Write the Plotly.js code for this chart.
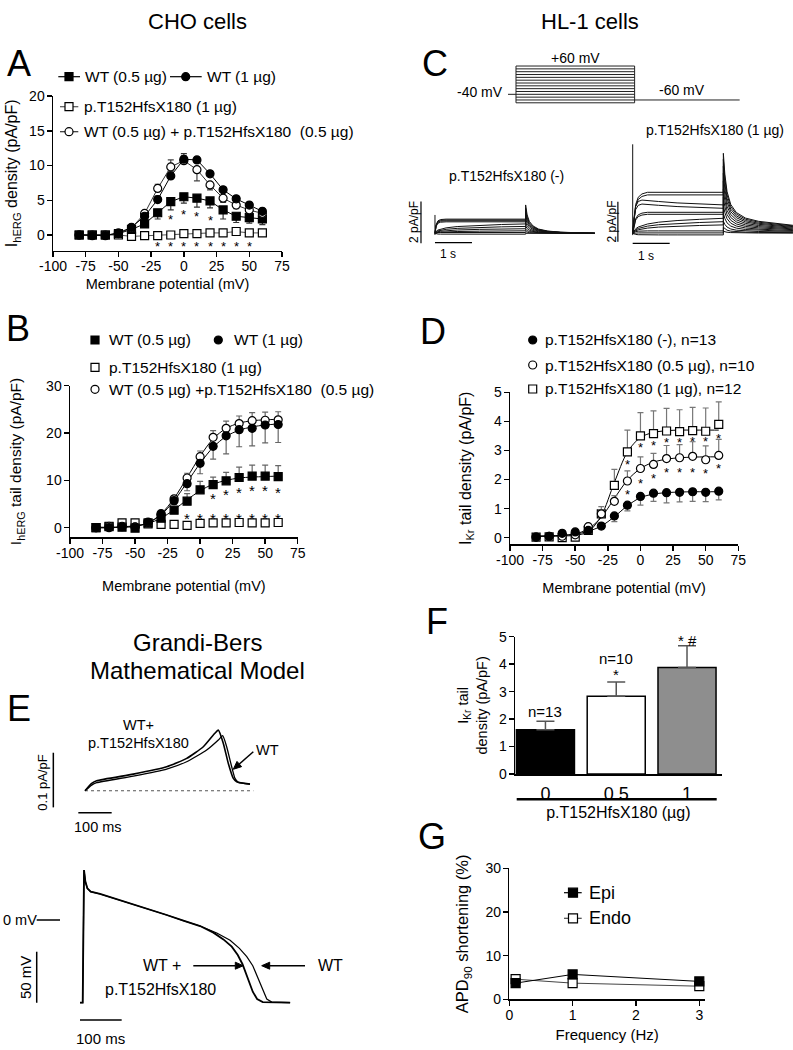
<!DOCTYPE html>
<html><head><meta charset="utf-8">
<script src="https://cdn.plot.ly/plotly-3.0.1.min.js"></script>
<style>html,body{margin:0;padding:0;background:#fff;}#plot{width:793px;height:1050px;}</style>
</head><body><div id="plot"></div>
<script>
const FONT = 'Liberation Sans, Arial, Helvetica, sans-serif';
const W = 793, H = 1050;

// ---------------- data ----------------
const voltages = [-80,-70,-60,-50,-40,-30,-20,-10,0,10,20,30,40,50,60];
const vTickVals = [-100,-75,-50,-25,0,25,50,75];
const vTickText = ['-100','-75','-50','-25','0','25','50','75'];

// Panel A (I hERG density, pA/pF)
const aWT05 = [0,0,0,0.2,0.8,1.6,3.2,4.8,5.5,5.3,4.9,3.6,2.7,2.5,2.3];
const aWT05ErrDown = [0,0,0,0,0.2,0.5,0.9,1.2,0.9,1.3,1.0,1.3,0.9,0.8,0.8];
const aWT1 = [0,-0.1,-0.1,0.3,1.1,2.7,5.1,8.5,10.9,10.8,8.8,6.5,5.2,4.3,3.4];
const aWT1ErrUp = [0,0,0,0,0.2,0.3,0.5,0.7,0.8,0.4,0.4,0.4,0.3,0.3,0.3];
const aMix = [0,0,0,0.2,1.0,3.1,6.7,9.8,10.7,9.4,7.2,5.3,4.3,3.6,3.1];
const aMixErrUp = [0,0,0,0,0.2,0.4,0.6,1.0,0.7,0,0,0,0,0,0];
const aMixErrDown = [0,0,0,0,0,0,0,0,0,1.6,0.7,0.6,0.5,0.4,0.3];
const aMut = [0,0,0,0,-0.2,-0.1,-0.1,0,0.2,0.2,0.3,0.3,0.5,0.3,0.3];
const aMutErr = [0,0,0,0,0.1,0.1,0.1,0.1,0.1,0.1,0.1,0.1,0.2,0.1,0.1];
const aStarX = [-10,0,10,20,-20,-10,0,10,20,30,40,50];
const aStarY = [2.66,3.38,3.14,2.56,-1.2,-1.2,-1.2,-1.2,-1.2,-1.2,-1.2,-1.2];

// Panel B (I hERG tail density)
const bWT05 = [0,0.2,0.1,-0.1,1.0,2.0,3.7,5.6,8.0,9.1,9.9,10.6,10.9,10.9,10.8];
const bWT05ErrUp = [0,0,0,0,0.3,0.4,0.6,1.6,1.8,1.6,1.8,2.2,2.3,2.3,2.3];
const bWT05Fit = [0.1,0.1,0.2,0.4,0.9,2.0,3.8,5.9,7.8,9.2,10.0,10.5,10.7,10.8,10.9];
const bWT1 = [0,0,0.2,0.1,1.2,2.8,5.7,9.3,13.6,17.2,19.4,20.7,21.0,21.7,21.8];
const bWT1ErrDown = [0,0,0,0,0.3,0.5,0.8,1.5,2.2,2.7,3.8,3.6,3.7,3.8,3.8];
const bWT1Fit = [0,0,0.1,0.3,1.0,2.7,5.7,9.6,13.6,17.0,19.3,20.6,21.3,21.7,21.9];
const bMix = [0,0.3,0.3,0.2,1.1,3.0,6.1,10.5,15.0,19.1,21.0,22.0,22.6,22.7,22.8];
const bMixErrUp = [0,0,0,0,0.3,0.4,0.6,1.0,1.2,1.4,1.5,1.6,1.7,1.7,1.7];
const bMixFit = [0,0,0.1,0.3,1.0,2.9,6.2,10.6,15.1,18.8,21.0,22.1,22.6,22.8,22.9];
const bMut = [0,0.3,1.0,1.0,0.8,0.7,0.7,0.5,0.9,1.0,1.0,1.1,1.0,1.0,1.1];
const bStarX = [10,20,30,40,50,60,-10,0,10,20,30,40,50,60];
const bStarY = [7.06,7.7,8.3,8.6,8.6,8.3,2.7,2.7,2.7,2.7,2.7,2.7,2.7,2.7];

// Panel C (voltage protocol and IKr traces, HL-1)
const protSteps = [-70,-60,-50,-40,-30,-20,-10,0,10,20,30,40,50,60];
const protHoldV = -40, protTailV = -60;
const protHoldStart = -0.165, protStepEnd = 2.45, protTailEnd = 4.62;
const cLeftStepT = [0,0.03,0.08,0.15,0.3,0.6,1.2,1.8,2.45];
const cLeftShapeFast = [0,0.6,0.88,0.97,1,1,1,1,1];
const cLeftShapeSlow = [0,0.2,0.35,0.45,0.58,0.72,0.86,0.94,1];
const cLeftLevels = [0.68,0.64,0.6,0.55,0.45,0.33,0.22,0.12,0.04,-0.04];
const cLeftKin = ['f','f','f','f','s','s','s','s','f','f'];
const cLeftTailPeak = [1.36,1.2,1.05,0.9,0.72,0.52,0.35,0.2,0.08,0.0];
const cLeftTailT = [2.45,2.49,2.55,2.65,2.8,3.05,3.4,3.8,4.32];
const cLeftTailFrac = [1,0.65,0.42,0.26,0.15,0.08,0.04,0.02,0];
const cLeftArtifactI = [-0.08,0.88];
const cRightStepT = [0,0.03,0.08,0.15,0.25,0.4,0.7,1.2,1.8,2.45];
const cRightShapeFast = [0,0.35,0.7,0.88,0.96,1,1,1,1,1];
const cRightShapeInact = [0,0.5,0.95,1.12,1.17,1.16,1.12,1.07,1.03,1];
const cRightShapeSlow = [0,0.15,0.3,0.42,0.52,0.62,0.74,0.85,0.93,1];
const cRightLevels = [2.05,1.92,1.42,1.25,1.05,0.95,0.75,0.58,0.42,0.12,0.02,-0.08];
const cRightKin = ['f','f','i','i','f','f','s','s','s','f','f','f'];
const cRightTailPeak = [4.0,3.7,3.35,3.0,2.6,2.2,1.8,1.4,1.0,0.6,0.3,0.1];
const cRightTailT = [2.45,2.49,2.55,2.65,2.8,3.05,3.4,3.9,4.33];
const cRightTailFrac = [1,0.74,0.52,0.36,0.26,0.19,0.15,0.12,0.1];
const cRightArtifactI = [-0.09,4.45];

// Panel D (IKr tail density)
const dNone = [0.02,0.05,0.15,0.2,0.25,0.4,0.75,1.12,1.42,1.53,1.55,1.56,1.58,1.56,1.6];
const dNoneErrDown = [0.02,0.03,0.04,0.05,0.05,0.07,0.2,0.2,0.3,0.28,0.35,0.33,0.33,0.32,0.3];
const dNoneFit = [0.05,0.06,0.08,0.12,0.22,0.4,0.72,1.1,1.38,1.5,1.55,1.57,1.58,1.58,1.58];
const dHalf = [0.02,0.05,0.05,0.1,0.38,0.82,1.25,1.95,2.38,2.52,2.72,2.75,2.8,2.68,2.83];
const dHalfErrUp = [0.02,0.03,0.03,0.05,0.1,0.15,0.2,0.35,0.4,0.38,0.45,0.45,0.5,0.48,0.55];
const dHalfFit = [0.05,0.06,0.08,0.13,0.3,0.7,1.35,1.98,2.38,2.6,2.7,2.75,2.77,2.78,2.78];
const dOne = [0.02,0.03,0.0,0.02,0.25,0.82,1.8,2.95,3.5,3.58,3.67,3.65,3.68,3.66,3.9];
const dOneErrUp = [0.02,0.03,0.03,0.05,0.15,0.25,0.55,0.75,0.8,0.78,0.78,0.75,0.8,0.8,0.77];
const dOneFit = [0.05,0.05,0.06,0.08,0.2,0.75,1.9,2.95,3.45,3.62,3.68,3.7,3.7,3.7,3.7];
const dStarX = [-10,0,10,20,30,40,50,60,-10,0,10,20,30,40,50,60];
const dStarY = [2.62,3.2,3.29,3.4,3.37,3.42,3.41,3.51,1.61,1.99,2.15,2.34,2.37,2.37,2.33,2.48];

// Panel E (Grandi-Bers model)
const eMutT = [0,20,35,145,245,305,355,385,400,415,430,445,455,495];
const eMutI = [0,0.0134,0.0183,0.0305,0.044,0.0592,0.0806,0.102,0.111,0.0867,0.050,0.0226,0.0165,0.0122];
const eWtT = [0,20,35,145,245,305,365,400,413,425,440,450,460,495];
const eWtI = [0,0.0104,0.0147,0.0269,0.0397,0.0531,0.0745,0.0928,0.1007,0.0806,0.044,0.0226,0.0153,0.0122];
const eBaseT = [0,505], eBaseI = [0,0];
const apCommonT = [-6.4,0,3.2,6.4,11.2,19.2,41.6,81.6,121.6,161.6,201.6,241.6,281.6];
const apCommonV = [-81.0,-81.0,49.0,37.6,31.0,27.8,25.5,20.3,15.7,10.5,4.9,-0.7,-5.9];
const apMutT = [313.6,337.6,357.6,372,383.2,392,400,408,418.4,432,497.6];
const apMutV = [-12.4,-19.0,-26.1,-34.3,-43.1,-52.3,-62.1,-70.3,-77.5,-80.4,-81.0];
const apWtT = [321.6,353.6,376,393.6,408,417.6,425.6,433.6,441.6,453.6,497.6];
const apWtV = [-12.7,-19.9,-27.8,-35.9,-44.8,-53.9,-62.7,-70.9,-77.5,-80.4,-81.0];

// Panel F (bars)
const fDose = ['0','0.5','1'];
const fMean = [1.61,2.83,3.88];
const fErr = [0.31,0.52,0.79];
const fColors = ['#000000','#ffffff','#8e8e8e'];
const fNText = ['n=13','n=10','n=12'];
const fNY = [2.27,4.21,5.49];
const fSigText = ['*','* #'];
const fSigIndex = [1,2];
const fSigY = [3.62,4.87];

// Panel G (APD90 shortening)
const gFreq = [0.1,1,3];
const gEpi = [3.7,5.7,4.1];
const gEndo = [4.6,3.7,3.0];

// ---------------- helpers ----------------
const px = x => x / W, py = y => 1 - y / H;
const dx = (a, b) => [a / W, b / W];
const dy = (top, bottom) => [1 - bottom / H, 1 - top / H];
const Z = voltages.map(() => 0);
function sc(xa, ya, x, y, o) { return Object.assign({type:'scatter', x, y, xaxis:xa, yaxis:ya, cliponaxis:false, hoverinfo:'skip'}, o); }
function mk(sym, filled, size) { return {symbol:sym, size, color: filled ? '#000' : '#fff', line:{color:'#000', width:1.2}}; }
function eb(up, down, color) { return {type:'data', symmetric:false, array:up, arrayminus:down, color, thickness:1.2, width:3}; }
function txt(text, x, y, size, o) { return Object.assign({text, x:px(x), y:py(y), xref:'paper', yref:'paper', showarrow:false, xanchor:'center', yanchor:'middle', font:{family:FONT, size, color:'#000'}}, o || {}); }
function stars(xs, ys, xa, ya, size) { return xs.map((x, i) => ({text:'*', x, y:ys[i], xref:xa, yref:ya, showarrow:false, xanchor:'center', yanchor:'middle', yshift:-0.25 * size, font:{family:FONT, size, color:'#000'}})); }
function glyph(cx, cy, sym, filled, size) { const h = size / 2; return {type: sym === 'square' ? 'rect' : 'circle', xref:'paper', yref:'paper', x0:px(cx - h), x1:px(cx + h), y0:py(cy + h), y1:py(cy - h), fillcolor: filled ? '#000' : '#fff', line:{color:'#000', width:1.2}}; }
function seg(x0, x1, y, color, w) { return {type:'line', xref:'paper', yref:'paper', x0:px(x0), x1:px(x1), y0:py(y), y1:py(y), line:{color, width:w}}; }
function dline(xr, yr, x0, y0, x1, y1, w) { return {type:'line', xref:xr, yref:yr, x0, y0, x1, y1, line:{color:'#000', width:w || 1.5}}; }
function arrow(x0, y0, x1, y1) {
  const L = Math.hypot(x1 - x0, y1 - y0), ux = (x1 - x0) / L, uy = (y1 - y0) / L;
  const hl = 8, hw = 3.5, bx = x1 - hl * ux, by = y1 - hl * uy, nx = -uy, ny = ux;
  return [
    {type:'line', xref:'paper', yref:'paper', x0:px(x0), y0:py(y0), x1:px(bx), y1:py(by), line:{color:'#000', width:1.5}},
    {type:'path', xref:'paper', yref:'paper', fillcolor:'#000', line:{color:'#000', width:1},
     path:`M ${px(x1)} ${py(y1)} L ${px(bx + hw * nx)} ${py(by + hw * ny)} L ${px(bx - hw * nx)} ${py(by - hw * ny)} Z`}
  ];
}
function ttl(text, size, standoff) { return {text, standoff, font:{family:FONT, size, color:'#000'}}; }

const traces = [];
// ---- A ----
traces.push(sc('x','y',voltages,aMut,{mode:'lines+markers', line:{color:'#555',width:1}, marker:mk('square',false,8), error_y:eb(aMutErr,aMutErr,'#555')}));
traces.push(sc('x','y',voltages,aWT05,{mode:'lines+markers', line:{color:'#000',width:1}, marker:mk('square',true,8), error_y:eb(Z,aWT05ErrDown,'#333')}));
traces.push(sc('x','y',voltages,aMix,{mode:'lines+markers', line:{color:'#333',width:1}, marker:mk('circle',false,8), error_y:eb(aMixErrUp,aMixErrDown,'#444')}));
traces.push(sc('x','y',voltages,aWT1,{mode:'lines+markers', line:{color:'#000',width:1}, marker:mk('circle',true,8), error_y:eb(aWT1ErrUp,Z,'#333')}));
// ---- B ----
[bWT05Fit,bWT1Fit,bMixFit].forEach(f => traces.push(sc('x2','y2',voltages,f,{mode:'lines', line:{color:'#000',width:1,shape:'spline',smoothing:0.8}})));
traces.push(sc('x2','y2',voltages,bMut,{mode:'markers', marker:mk('square',false,8), error_y:eb(Z,Z,'#666')}));
traces.push(sc('x2','y2',voltages,bWT05,{mode:'markers', marker:mk('square',true,8), error_y:eb(bWT05ErrUp,Z,'#666')}));
traces.push(sc('x2','y2',voltages,bMix,{mode:'markers', marker:mk('circle',false,8), error_y:eb(bMixErrUp,Z,'#666')}));
traces.push(sc('x2','y2',voltages,bWT1,{mode:'markers', marker:mk('circle',true,8), error_y:eb(Z,bWT1ErrDown,'#666')}));
// ---- C protocol ----
{
  const xs = [], ys = [];
  protSteps.forEach(v => { xs.push(0, protStepEnd, null); ys.push(v, v, null); });
  const lo = protSteps[0], hi = protSteps[protSteps.length - 1];
  xs.push(0, 0, null, protStepEnd, protStepEnd, null); ys.push(lo, hi, null, lo, hi, null);
  xs.push(protHoldStart, 0, null, protStepEnd, protTailEnd); ys.push(protHoldV, protHoldV, null, protTailV, protTailV);
  traces.push(sc('x3','y3',xs,ys,{mode:'lines', line:{color:'#222',width:1}}));
}
// ---- C current traces ----
function currentTrace(xa, ya, stepT, shape, level, tailT, tailFrac, peak) {
  const x = stepT.concat(tailT);
  const y = shape.map(f => f * level).concat(tailFrac.map(f => f * peak));
  return sc(xa, ya, x, y, {mode:'lines', line:{color:'#111', width:1}});
}
cLeftLevels.forEach((lv, i) => traces.push(currentTrace('x4','y4',cLeftStepT, cLeftKin[i]==='f'?cLeftShapeFast:cLeftShapeSlow, lv, cLeftTailT, cLeftTailFrac, cLeftTailPeak[i])));
traces.push(sc('x4','y4',[0,0],cLeftArtifactI,{mode:'lines', line:{color:'#111',width:1}}));
const rShapes = {f:cRightShapeFast, i:cRightShapeInact, s:cRightShapeSlow};
cRightLevels.forEach((lv, i) => traces.push(currentTrace('x5','y5',cRightStepT, rShapes[cRightKin[i]], lv, cRightTailT, cRightTailFrac, cRightTailPeak[i])));
traces.push(sc('x5','y5',[0,0],cRightArtifactI,{mode:'lines', line:{color:'#111',width:1}}));
// ---- D ----
[dNoneFit,dHalfFit,dOneFit].forEach(f => traces.push(sc('x6','y6',voltages,f,{mode:'lines', line:{color:'#000',width:1,shape:'spline',smoothing:0.8}})));
traces.push(sc('x6','y6',voltages,dOne,{mode:'markers', marker:mk('square',false,8), error_y:eb(dOneErrUp,Z,'#777')}));
traces.push(sc('x6','y6',voltages,dHalf,{mode:'markers', marker:mk('circle',false,8), error_y:eb(dHalfErrUp,Z,'#777')}));
traces.push(sc('x6','y6',voltages,dNone,{mode:'markers', marker:mk('circle',true,8), error_y:eb(Z,dNoneErrDown,'#777')}));
// ---- E ----
traces.push(sc('x7','y7',eBaseT,eBaseI,{mode:'lines', line:{color:'#555',width:1.2,dash:'dot'}}));
traces.push(sc('x7','y7',eWtT,eWtI,{mode:'lines', line:{color:'#000',width:1.3,shape:'spline',smoothing:0.5}}));
traces.push(sc('x7','y7',eMutT,eMutI,{mode:'lines', line:{color:'#000',width:1.6,shape:'spline',smoothing:0.5}}));
traces.push(sc('x8','y8',apCommonT.concat(apWtT),apCommonV.concat(apWtV),{mode:'lines', line:{color:'#000',width:1.2}}));
traces.push(sc('x8','y8',apCommonT.concat(apMutT),apCommonV.concat(apMutV),{mode:'lines', line:{color:'#000',width:1.8}}));
// ---- F ----
traces.push({type:'bar', x:fDose, y:fMean, xaxis:'x9', yaxis:'y9', width:0.82, hoverinfo:'skip',
  marker:{color:fColors, line:{color:'#000', width:1.5}},
  error_y:{type:'data', symmetric:false, array:fErr, arrayminus:[0,0,0], color:'#555', thickness:1.5, width:9}});
// ---- G ----
traces.push(sc('x10','y10',gFreq,gEndo,{mode:'lines+markers', line:{color:'#444',width:1}, marker:mk('square',false,9)}));
traces.push(sc('x10','y10',gFreq,gEpi,{mode:'lines+markers', line:{color:'#000',width:1}, marker:mk('square',true,9)}));

// ---------------- layout ----------------
const axBase = {showline:true, linewidth:1.5, linecolor:'#000', ticks:'outside', ticklen:5, tickwidth:1.5, tickcolor:'#000',
  showgrid:false, zeroline:false, fixedrange:true, automargin:false, tickfont:{family:FONT, size:14, color:'#000'}};
const xAx = Object.assign({}, axBase, {ticklabelstandoff:-3});
const yAx = Object.assign({}, axBase, {ticklabelstandoff:-1});
const axHidden = {visible:false, showgrid:false, zeroline:false, fixedrange:true};

const annotations = [
  txt('CHO cells', 197, 21, 22), txt('HL-1 cells', 590, 21, 22),
  txt('A', 19, 63, 36), txt('B', 18, 328, 36), txt('C', 435, 63, 36), txt('D', 433, 331, 36),
  txt('E', 19, 708, 36), txt('F', 437, 621, 36), txt('G', 432, 836, 36),
  // A legend
  txt('WT (0.5 µg)', 83.3, 76.7, 15.5, {xanchor:'left'}), txt('WT (1 µg)', 205, 76.7, 15.5, {xanchor:'left'}),
  txt('p.T152HfsX180 (1 µg)', 81.7, 106.7, 15.5, {xanchor:'left'}),
  txt('WT (0.5 µg) + p.T152HfsX180  (0.5 µg)', 81.7, 131.7, 15.5, {xanchor:'left'}),
  // B legend
  txt('WT (0.5 µg)', 106.7, 340, 15.5, {xanchor:'left'}), txt('WT (1 µg)', 231.7, 340, 15.5, {xanchor:'left'}),
  txt('p.T152HfsX180 (1 µg)', 106.7, 367.3, 15.5, {xanchor:'left'}),
  txt('WT (0.5 µg) +p.T152HfsX180  (0.5 µg)', 106.7, 389.3, 15.5, {xanchor:'left'}),
  // C
  txt('+60 mV', 575, 58, 14), txt('-40 mV', 480, 91.7, 14), txt('-60 mV', 681.7, 90, 14),
  txt('p.T152HfsX180 (-)', 506.7, 175.7, 14), txt('p.T152HfsX180 (1 µg)', 715, 130, 14),
  txt('2 pA/pF', 413.3, 221.7, 12, {textangle:-90}), txt('1 s', 448.3, 254, 12),
  txt('2 pA/pF', 611.5, 222, 12, {textangle:-90}), txt('1 s', 645.5, 255.5, 12),
  // D legend
  txt('p.T152HfsX180 (-), n=13', 543.3, 340, 15.5, {xanchor:'left'}),
  txt('p.T152HfsX180 (0.5 µg), n=10', 543.3, 365, 15.5, {xanchor:'left'}),
  txt('p.T152HfsX180 (1 µg), n=12', 543.3, 389, 15.5, {xanchor:'left'}),
  // E
  txt('Grandi-Bers', 197, 642, 24), txt('Mathematical Model', 197, 670, 24),
  txt('WT+', 138.3, 725, 14.5), txt('p.T152HfsX180', 138.3, 742.7, 14.5), txt('WT', 267, 750, 14.5),
  txt('0.1 pA/pF', 41.7, 783, 13, {textangle:-90}), txt('100 ms', 98, 827, 14.5),
  txt('0 mV', 0.5, 920, 14.5, {xanchor:'left'}), txt('50 mV', 25, 978, 15, {textangle:-90}),
  txt('100 ms', 100, 1038.3, 15),
  txt('WT +', 161.7, 965.7, 16), txt('p.T152HfsX180', 160, 989.3, 16), txt('WT', 330, 965.7, 16),
  // G legend
  txt('Epi', 586.7, 892.7, 18, {xanchor:'left'}), txt('Endo', 586.7, 918.3, 18, {xanchor:'left'})
].concat(stars(aStarX, aStarY, 'x', 'y', 13))
 .concat(stars(bStarX, bStarY, 'x2', 'y2', 15))
 .concat(stars(dStarX, dStarY, 'x6', 'y6', 13))
 .concat(fNText.map((t, i) => ({text:t, x:i, y:fNY[i], xref:'x9', yref:'y9', showarrow:false, xanchor:'center', yanchor:'middle', font:{family:FONT, size:15, color:'#000'}})))
 .concat(fSigText.map((t, i) => ({text:t, x:fSigIndex[i], y:fSigY[i], xref:'x9', yref:'y9', showarrow:false, xanchor:'center', yanchor:'middle', font:{family:FONT, size:15, color:'#000'}})));

const shapes = [
  // A legend
  seg(58.3, 80, 76.7, '#000', 1.2), glyph(69, 76.7, 'square', true, 8),
  seg(170, 201.7, 76.7, '#000', 1.2), glyph(185.7, 76.7, 'circle', true, 8),
  seg(60, 78.3, 106.7, '#555', 1.2), glyph(69, 106.7, 'square', false, 8),
  seg(60, 78.3, 131.7, '#333', 1.2), glyph(69, 131.7, 'circle', false, 8),
  // B legend
  glyph(95, 340, 'square', true, 8), glyph(218.3, 340, 'circle', true, 8),
  glyph(95, 367.3, 'square', false, 8), glyph(95, 389.3, 'circle', false, 8),
  // D legend
  glyph(532.7, 340, 'circle', true, 8), glyph(532.7, 365, 'circle', false, 8), glyph(532.7, 389, 'square', false, 8),
  // G legend
  seg(564, 581.7, 892.7, '#000', 1.2), glyph(573, 892.7, 'square', true, 9),
  seg(564, 581.7, 918.3, '#444', 1.2), glyph(573, 918.3, 'square', false, 9),
  // C scale bars (data units: s and pA/pF)
  dline('x4','y4', -0.378, -0.48, -0.378, 1.52, 1.2), dline('x4','y4', 0, -0.45, 1, -0.45, 1.2),
  dline('x5','y5', -0.40, -0.42, -0.40, 1.58, 1.2), dline('x5','y5', 0, -0.5, 1, -0.5, 1.2),
  // E scale bars (ms, pA/pF, mV)
  dline('x7','y7', -95, -0.0304, -95, 0.0696, 1.5), dline('x7','y7', -20, -0.0403, 80, -0.0403, 1.5),
  dline('x8','y8', -110.3, 0, -54.4, 0, 1.5), dline('x8','y8', -110.3, -81.1, -110.3, -31.1, 1.5),
  dline('x8','y8', -6.5, -98, 93.5, -98, 1.5),
  // F group line
  seg(516.7, 716.7, 799.3, '#000', 2.5)
].concat(arrow(253.3, 751.7, 233.3, 769.3))
 .concat(arrow(193.3, 965.7, 243.3, 965.7))
 .concat(arrow(305, 965.7, 261.7, 965.7));

const layout = {
  width: W, height: H, margin:{l:0, r:0, t:0, b:0}, paper_bgcolor:'#fff', plot_bgcolor:'rgba(0,0,0,0)',
  showlegend:false, font:{family:FONT, color:'#000'},
  xaxis: Object.assign({}, xAx, {domain:dx(53,282), range:[-100,75], tickvals:vTickVals, ticktext:vTickText, anchor:'y',
    title:ttl('Membrane potential (mV)', 14.5, 6)}),
  yaxis: Object.assign({}, yAx, {domain:dy(96,250.7), range:[-2.26,20], tickvals:[0,5,10,15,20], anchor:'x',
    title:ttl('I<sub>hERG</sub> density (pA/pF)', 16, 7)}),
  xaxis2: Object.assign({}, xAx, {domain:dx(70,297.7), range:[-100,75], tickvals:vTickVals, ticktext:vTickText, anchor:'y2',
    title:ttl('Membrane potential (mV)', 14.5, 21)}),
  yaxis2: Object.assign({}, yAx, {domain:dy(385.7,537.3), range:[-2.03,30], tickvals:[0,10,20,30], anchor:'x2',
    title:ttl('I<sub>hERG</sub> tail density (pA/pF)', 15.5, 20)}),
  xaxis3: Object.assign({}, axHidden, {domain:dx(505,745), range:[-0.227,4.73], anchor:'y3'}),
  yaxis3: Object.assign({}, axHidden, {domain:dy(60,110), range:[-95.4,81.3], anchor:'x3'}),
  xaxis4: Object.assign({}, axHidden, {domain:dx(415,600), range:[-0.54,4.46], anchor:'y4'}),
  yaxis4: Object.assign({}, axHidden, {domain:dy(195,250), range:[-0.80,1.837], anchor:'x4'}),
  xaxis5: Object.assign({}, axHidden, {domain:dx(612,793), range:[-0.559,4.332], anchor:'y5'}),
  yaxis5: Object.assign({}, axHidden, {domain:dy(140,250), range:[-0.835,4.665], anchor:'x5'}),
  xaxis6: Object.assign({}, xAx, {domain:dx(510,738.3), range:[-100,75], tickvals:vTickVals, ticktext:vTickText, anchor:'y6',
    title:ttl('Membrane potential (mV)', 14.5, 16)}),
  yaxis6: Object.assign({}, yAx, {domain:dy(392.3,544.3), range:[-0.227,5], tickvals:[0,1,2,3,4,5], anchor:'x6',
    title:ttl('I<sub>Kr</sub> tail density (pA/pF)', 16, 18)}),
  xaxis7: Object.assign({}, axHidden, {domain:dx(40,300), range:[-135,645], anchor:'y7'}),
  yaxis7: Object.assign({}, axHidden, {domain:dy(720,830), range:[-0.0718,0.1295], anchor:'x7'}),
  xaxis8: Object.assign({}, axHidden, {domain:dx(30,300), range:[-126.4,521.3], anchor:'y8'}),
  yaxis8: Object.assign({}, axHidden, {domain:dy(860,1045), range:[-122.5,58.8], anchor:'x8'}),
  xaxis9: Object.assign({}, axBase, {type:'category', domain:dx(515,721.7), range:[-0.43,2.49], ticks:'', ticklabelstandoff:3,
    tickfont:{family:FONT, size:18, color:'#000'}, anchor:'y9', title:ttl('p.T152HfsX180 (µg)', 16, 3)}),
  yaxis9: Object.assign({}, yAx, {domain:dy(636.7,774), range:[0,5], tickvals:[0,1,2,3,4,5], anchor:'x9',
    title:ttl('I<sub>Kr</sub> tail<br>density (pA/pF)', 14.5, 8)}),
  xaxis10: Object.assign({}, xAx, {domain:dx(509.3,705), range:[0,3.09], tickvals:[0,1,2,3], anchor:'y10',
    title:ttl('Frequency (Hz)', 15, 8)}),
  yaxis10: Object.assign({}, yAx, {domain:dy(868.3,999.3), range:[0,30], tickvals:[0,10,20,30], anchor:'x10',
    title:ttl('APD<sub>90</sub> shortening (%)', 16.5, 12)}),
  bargap:0,
  annotations, shapes
};

Plotly.newPlot('plot', traces, layout, {staticPlot:true, displayModeBar:false});
</script></body></html>
